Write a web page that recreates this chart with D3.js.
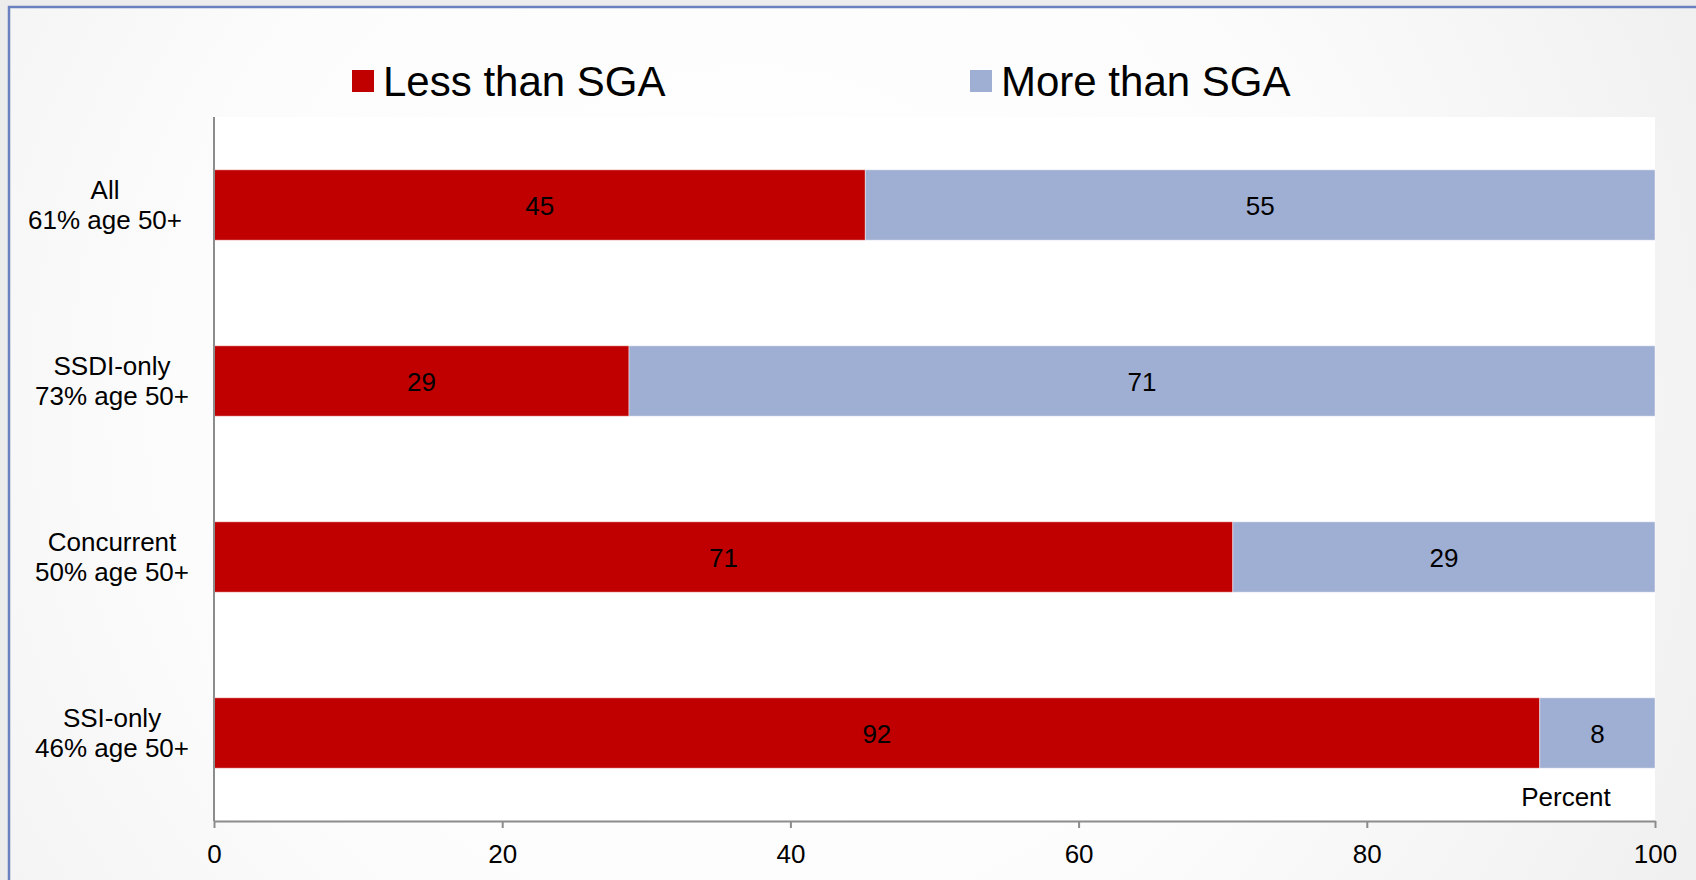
<!DOCTYPE html>
<html>
<head>
<meta charset="utf-8">
<script src="https://cdn.jsdelivr.net/npm/d3@7"></script>
<style>
  html, body { margin: 0; padding: 0; background: #ececec; }
  svg { display: block; font-family: Arial, "Liberation Sans", sans-serif; }
</style>
</head>
<body>
<svg id="chart" width="1696" height="880"></svg>
<script>
const categories = ["All", "SSDI-only", "Concurrent", "SSI-only"];
const subLabels = ["61% age 50+", "73% age 50+", "50% age 50+", "46% age 50+"];
const lessThanSGA = [45.2, 28.8, 70.7, 92.0];
const moreThanSGA = [54.8, 71.2, 29.3, 8.0];
const seriesNames = ["Less than SGA", "More than SGA"];
const seriesColors = ["#c00000", "#9faed3"];
const xTicks = [0, 20, 40, 60, 80, 100];

const W = 1696, H = 880;
const plot = { left: 214, right: 1655, top: 117, bottom: 821 };

const svg = d3.select("#chart");

// slide-style background: soft gradient with a blue frame
const defs = svg.append("defs");
const grad = defs.append("radialGradient")
  .attr("id", "bg")
  .attr("gradientUnits", "userSpaceOnUse")
  .attr("cx", 750).attr("cy", 400).attr("r", 1150);
grad.append("stop").attr("offset", "0%").attr("stop-color", "#ffffff");
grad.append("stop").attr("offset", "50%").attr("stop-color", "#fcfcfc");
grad.append("stop").attr("offset", "100%").attr("stop-color", "#ededed");

svg.append("rect").attr("width", W).attr("height", H).attr("fill", "#ececec");
svg.append("rect")
  .attr("x", 9).attr("y", 7)
  .attr("width", W + 20).attr("height", H + 20)
  .attr("fill", "url(#bg)")
  .attr("stroke", "#6b80bf")
  .attr("stroke-width", 2.5);

// white plot area
svg.append("rect")
  .attr("x", plot.left).attr("y", plot.top)
  .attr("width", plot.right - plot.left).attr("height", plot.bottom - plot.top)
  .attr("fill", "#ffffff");

const x = d3.scaleLinear().domain([0, 100]).range([plot.left, plot.right]);
const y = d3.scaleBand()
  .domain(categories)
  .range([plot.top, plot.bottom])
  .paddingInner(0.6)
  .paddingOuter(0.3);

const rows = categories.map((c, i) => ({ cat: c, sub: subLabels[i], vals: [lessThanSGA[i], moreThanSGA[i]] }));
const stacked = d3.stack().keys([0, 1]).value((d, k) => d.vals[k])(rows);

const fmt = d3.format(".0f");

stacked.forEach((layer, k) => {
  const g = svg.append("g");
  g.selectAll("rect")
    .data(layer)
    .join("rect")
    .attr("x", d => x(d[0]))
    .attr("y", d => y(d.data.cat))
    .attr("width", d => x(d[1]) - x(d[0]))
    .attr("height", y.bandwidth())
    .attr("fill", seriesColors[k])
    .attr("stroke", "#ffffff")
    .attr("stroke-opacity", 0.45)
    .attr("stroke-width", 1);

  g.selectAll("text")
    .data(layer)
    .join("text")
    .attr("x", d => (x(d[0]) + x(d[1])) / 2)
    .attr("y", d => y(d.data.cat) + y.bandwidth() / 2)
    .attr("dy", "0.38em")
    .attr("text-anchor", "middle")
    .attr("font-size", 26)
    .attr("fill", "#000")
    .text(d => fmt(d.data.vals[k]));
});

// x axis
const xAxis = svg.append("g")
  .attr("transform", `translate(0,${plot.bottom})`)
  .call(d3.axisBottom(x).tickValues(xTicks).tickSize(7).tickPadding(17).tickSizeOuter(0));
xAxis.select(".domain").attr("stroke", "#8c8c8c").attr("stroke-width", 2);
xAxis.selectAll(".tick line").attr("stroke", "#8c8c8c").attr("stroke-width", 2);
xAxis.selectAll(".tick text")
  .attr("font-size", 26)
  .attr("font-family", "Arial, 'Liberation Sans', sans-serif")
  .attr("fill", "#000");

// y axis line
svg.append("line")
  .attr("x1", plot.left).attr("x2", plot.left)
  .attr("y1", plot.top).attr("y2", plot.bottom)
  .attr("stroke", "#8c8c8c").attr("stroke-width", 2);

// category labels, two lines each
const catG = svg.append("g").selectAll("text")
  .data(rows)
  .join("text")
  .attr("text-anchor", "middle")
  .attr("font-size", 26)
  .attr("fill", "#000")
  .attr("transform", (d, i) => `translate(${i === 0 ? 105 : 112},${y(d.cat) + y.bandwidth() / 2})`);
catG.append("tspan").attr("x", 0).attr("y", -15).attr("dy", "0.36em").text(d => d.cat);
catG.append("tspan").attr("x", 0).attr("y", 15).attr("dy", "0.36em").text(d => d.sub);

// axis unit label
svg.append("text")
  .attr("x", 1566).attr("y", 797).attr("dy", "0.36em")
  .attr("text-anchor", "middle")
  .attr("font-size", 26)
  .text("Percent");

// legend
const legendX = [352, 970];
const legend = svg.append("g").selectAll("g")
  .data(seriesNames)
  .join("g")
  .attr("transform", (d, i) => `translate(${legendX[i]},70)`);
legend.append("rect")
  .attr("width", 22).attr("height", 22)
  .attr("fill", (d, i) => seriesColors[i]);
legend.append("text")
  .attr("x", 31).attr("y", 11).attr("dy", "0.36em")
  .attr("font-size", 42)
  .attr("fill", "#000")
  .text(d => d);
</script>
</body>
</html>
